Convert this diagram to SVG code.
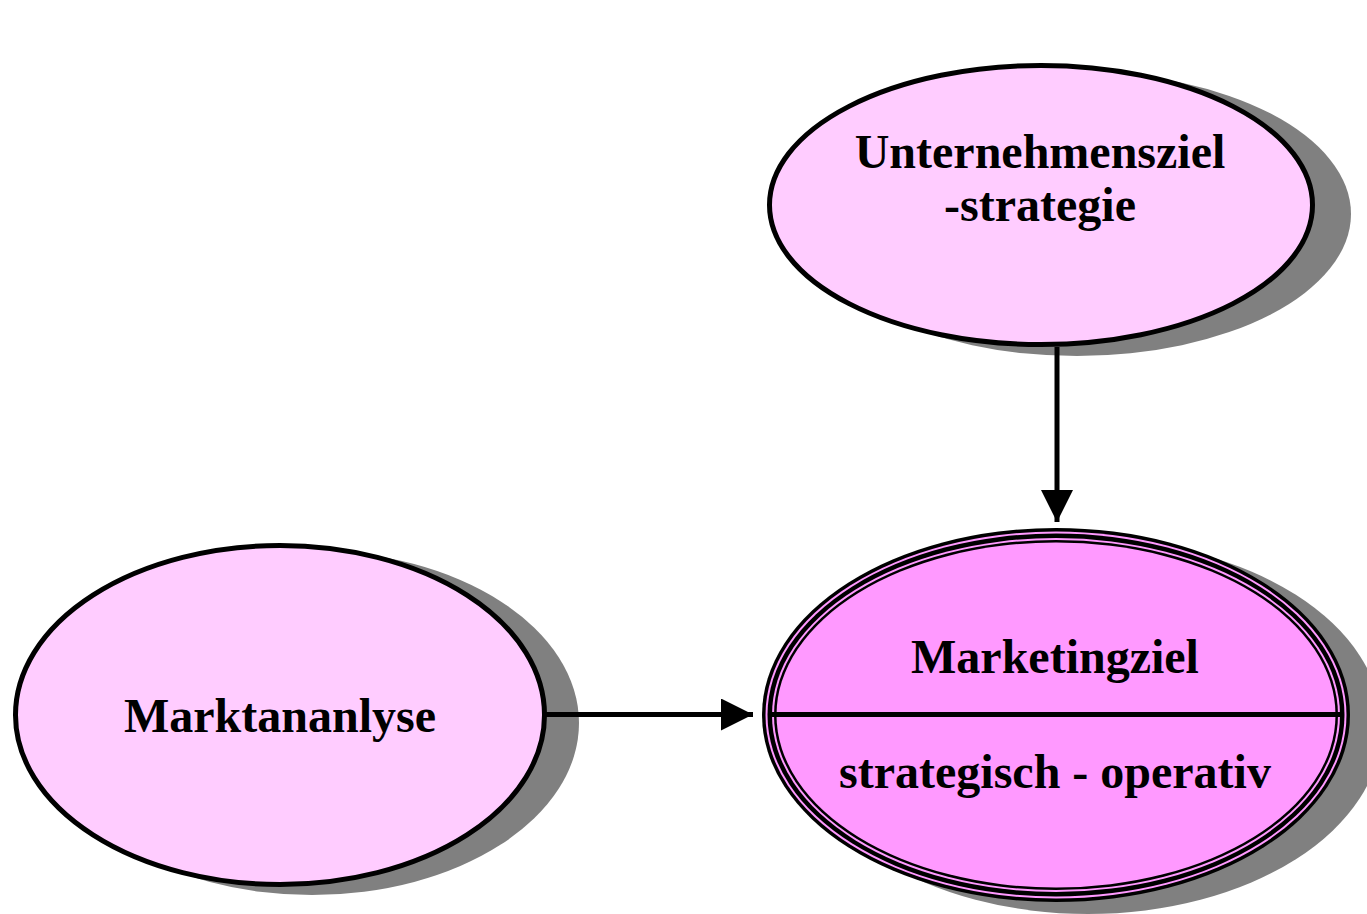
<svg xmlns="http://www.w3.org/2000/svg" width="1367" height="914" viewBox="0 0 1367 914">
<defs>
<style>
.shadow{fill:#808080;stroke:none}
.light{fill:#ffccff;stroke:#000;stroke-width:5}
.lbl{font-family:"Liberation Serif","Times New Roman",serif;font-weight:bold;font-size:48px;fill:#000;text-anchor:middle}
.conn{stroke:#000;stroke-width:5;fill:none}
</style>
<marker id="arr" markerUnits="userSpaceOnUse" markerWidth="32" markerHeight="32" refX="32" refY="16" orient="auto" viewBox="0 0 32 32">
<path d="M0,0 L32,16 L0,32 Z" fill="#000"/>
</marker>
</defs>
<rect width="1367" height="914" fill="#fff"/>
<g id="unternehmensziel">
<ellipse class="shadow" cx="1077" cy="214" rx="274" ry="142"/>
<ellipse class="light" cx="1041" cy="205" rx="271.5" ry="139.5"/>
<text class="lbl" x="1040" y="168">Unternehmensziel</text>
<text class="lbl" x="1040" y="221">-strategie</text>
</g>
<g id="marktananlyse">
<ellipse class="shadow" cx="312" cy="723" rx="267" ry="172"/>
<ellipse class="light" cx="280" cy="715" rx="264.5" ry="169.5"/>
<text class="lbl" x="280" y="732">Marktananlyse</text>
</g>
<g id="marketingziel">
<ellipse class="shadow" cx="1088" cy="727" rx="294" ry="187"/>
<ellipse cx="1056" cy="715" rx="294" ry="187" fill="#000"/>
<ellipse cx="1056" cy="715" rx="290.5" ry="183.5" fill="#ff99ff"/>
<ellipse cx="1056" cy="715" rx="288.5" ry="181.5" fill="#000"/>
<ellipse cx="1056" cy="715" rx="284" ry="177" fill="#ff99ff"/>
<ellipse cx="1056" cy="715" rx="282" ry="175" fill="#000"/>
<ellipse cx="1056" cy="715" rx="279.5" ry="172.5" fill="#ff99ff"/>
<line x1="772" y1="714.5" x2="1340" y2="714.5" stroke="#000" stroke-width="5"/>
<text class="lbl" x="1055" y="673">Marketingziel</text>
<text class="lbl" x="1055" y="788">strategisch - operativ</text>
</g>
<g id="connectors">
<line class="conn" x1="1057" y1="347" x2="1057" y2="522" marker-end="url(#arr)"/>
<line class="conn" x1="546" y1="714.5" x2="753" y2="714.5" marker-end="url(#arr)"/>
</g>
</svg>
